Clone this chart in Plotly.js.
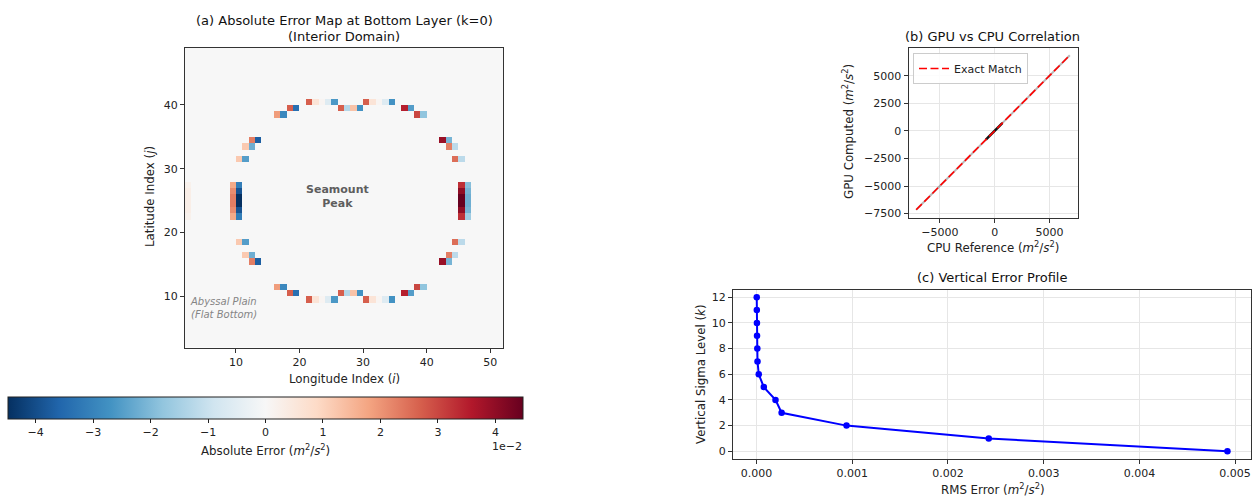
<!DOCTYPE html>
<html>
<head>
<meta charset="utf-8">
<script src="https://cdn.plot.ly/plotly-3.0.1.min.js"></script>
<style>html,body{margin:0;padding:0;background:#fff;}#chart{width:1252px;height:498px;}</style>
</head>
<body>
<div id="chart"></div>
<script>
// ---------- Panel (a): error map cells (lon index i, lat index j, error) ----------
const lonEdges = [2,3,4,5,6,7,8,9,10,11,12,13,14,15,16,17,18,19,20,21,22,23,24,25,26,27,28,29,30,31,32,33,34,35,36,37,38,39,40,41,42,43,44,45,46,47,48,49,50,51,52];
const latEdges = [2,3,4,5,6,7,8,9,10,11,12,13,14,15,16,17,18,19,20,21,22,23,24,25,26,27,28,29,30,31,32,33,34,35,36,37,38,39,40,41,42,43,44,45,46,47,48,49];
const errLon = [
  21,22,23,24,25,30,31,32,33,34,
  18,19,26,27,28,29,36,37,
  16,17,38,39,
  12,13,42,43,
  11,12,43,44,
  10,11,44,45,
  9,9,9,9,9,9,
  10,10,10,10,10,10,
  45,45,45,45,45,45,
  46,46,46,46,46,46,
  2,2,2,2,2,2,
  10,11,44,45,
  11,12,43,44,
  12,13,42,43,
  16,17,38,39,
  18,19,26,27,28,29,36,37,
  21,22,23,24,25,30,31,32,33,34
];
const errLat = [
  40,40,40,40,40,40,40,40,40,40,
  39,39,39,39,39,39,39,39,
  38,38,38,38,
  34,34,34,34,
  33,33,33,33,
  31,31,31,31,
  27,26,25,24,23,22,
  27,26,25,24,23,22,
  27,26,25,24,23,22,
  27,26,25,24,23,22,
  27,26,25,24,23,22,
  18,18,18,18,
  16,16,16,16,
  15,15,15,15,
  11,11,11,11,
  10,10,10,10,10,10,10,10,
  9,9,9,9,9,9,9,9,9,9
];
const errVal = [
  0.027,0.006,0.001,-0.006,-0.026,0.027,0.006,0.001,-0.006,-0.027,
  0.027,-0.034,0.027,-0.013,0.013,-0.027,0.035,-0.025,
  0.019,-0.029,0.030,-0.018,
  0.023,-0.037,0.039,-0.021,
  0.012,-0.022,0.023,-0.012,
  0.012,-0.025,0.025,-0.012,
  0.017,0.021,0.023,0.023,0.021,0.017,
  -0.031,-0.039,-0.045,-0.045,-0.039,-0.031,
  0.033,0.040,0.045,0.045,0.040,0.033,
  -0.019,-0.021,-0.022,-0.022,-0.021,-0.016,
  0.002,0.003,0.003,0.003,0.003,0.002,
  0.012,-0.025,0.025,-0.012,
  0.012,-0.022,0.023,-0.012,
  0.023,-0.037,0.039,-0.021,
  0.019,-0.029,0.030,-0.018,
  0.027,-0.034,0.027,-0.013,0.013,-0.027,0.035,-0.025,
  0.027,0.006,0.001,-0.006,-0.026,0.027,0.006,0.001,-0.006,-0.027
];
const errLimit = 0.0448;
const cbTickVals = [-0.04,-0.03,-0.02,-0.01,0,0.01,0.02,0.03,0.04];
const cbTickText = ['\u22124','\u22123','\u22122','\u22121','0','1','2','3','4'];
const aXTicks = [10,20,30,40,50];
const aYTicks = [10,20,30,40];

// ---------- Panel (b): GPU vs CPU ----------
const cpuSpread = [-7150, 6850];
const gpuSpread = [-7150, 6850];
const cpuCore = [-800, 700];
const gpuCore = [-800, 700];
const exactMatch = [-7150, 6850];
const bTicksX = [-5000, 0, 5000];
const bTicksXText = ['\u22125000','0','5000'];
const bTicksY = [5000, 2500, 0, -2500, -5000, -7500];
const bTicksYText = ['5000','2500','0','\u22122500','\u22125000','\u22127500'];

// ---------- Panel (c): vertical profile ----------
const sigmaLevels = [0,1,2,3,4,5,6,7,8,9,10,11,12];
const rmsError = [0.00492,0.002426,0.00094,0.000262,0.000198,0.000076,0.000023,0.00001,0.000008,0.000005,0.000004,0.000003,0.000002];

// build z matrix from cell lists
const nx = lonEdges.length - 1, ny = latEdges.length - 1;
const z = [];
for (let r = 0; r < ny; r++) { z.push(new Array(nx).fill(0)); }
for (let k = 0; k < errVal.length; k++) {
  const c = errLon[k] - lonEdges[0];
  const r = errLat[k] - latEdges[0];
  if (r >= 0 && r < ny && c >= 0 && c < nx) z[r][c] = errVal[k];
}

const rdbuR = [
  [0.0,'#053061'],[0.1,'#2166ac'],[0.2,'#4393c3'],[0.3,'#92c5de'],[0.4,'#d1e5f0'],
  [0.5,'#f7f7f7'],[0.6,'#fddbc7'],[0.7,'#f4a582'],[0.8,'#d6604d'],[0.9,'#b2182b'],[1.0,'#67001f']
];

const W = 1252, H = 498;
const px = v => v / W;
const py = v => 1 - v / H;

const traces = [
  {
    type: 'heatmap', x: lonEdges, y: latEdges, z: z,
    zmin: -errLimit, zmax: errLimit, colorscale: rdbuR, xaxis: 'x', yaxis: 'y',
    hoverinfo: 'skip', showlegend: false,
    colorbar: {
      orientation: 'h', x: px(265.5), xanchor: 'center', y: py(396.5), yanchor: 'top',
      len: 515 / W, lenmode: 'fraction', thickness: 22, thicknessmode: 'pixels',
      outlinewidth: 1, outlinecolor: '#222', xpad: 0, ypad: 0,
      tickvals: cbTickVals, ticktext: cbTickText, ticks: 'outside', ticklen: 4, tickcolor: '#222',
      tickfont: {size: 11, color: '#222'}
    }
  },
  {
    type: 'scatter', mode: 'lines', x: cpuSpread, y: gpuSpread, xaxis: 'x2', yaxis: 'y2',
    line: {color: 'rgba(0,0,0,0.28)', width: 2}, showlegend: false, hoverinfo: 'skip'
  },
  {
    type: 'scatter', mode: 'lines', x: cpuCore, y: gpuCore, xaxis: 'x2', yaxis: 'y2',
    line: {color: 'rgba(0,0,0,0.9)', width: 2.5}, showlegend: false, hoverinfo: 'skip'
  },
  {
    type: 'scatter', mode: 'lines', x: exactMatch, y: exactMatch, xaxis: 'x2', yaxis: 'y2',
    name: 'Exact Match', line: {color: '#ff0000', width: 1.6, dash: '8px,3.5px'}, showlegend: true
  },
  {
    type: 'scatter', mode: 'lines+markers', x: rmsError, y: sigmaLevels, xaxis: 'x3', yaxis: 'y3',
    line: {color: '#0000ff', width: 2}, marker: {color: '#0000ff', size: 6.5}, showlegend: false
  }
];

const axBase = {
  showline: true, mirror: true, linecolor: '#333', linewidth: 1,
  ticks: 'outside', ticklen: 4, tickcolor: '#333', tickwidth: 1,
  tickfont: {size: 11, color: '#222'}, zeroline: false, showgrid: false, fixedrange: true
};

const layout = {
  width: W, height: H, margin: {l: 0, r: 0, t: 0, b: 0},
  paper_bgcolor: '#ffffff', plot_bgcolor: '#ffffff',
  font: {family: 'DejaVu Sans, sans-serif', size: 11, color: '#222'},
  xaxis: Object.assign({}, axBase, {domain: [px(185), px(503)], range: [2, 52], anchor: 'y', tickvals: aXTicks}),
  yaxis: Object.assign({}, axBase, {domain: [py(347.5), py(47.5)], range: [2, 49], anchor: 'x', tickvals: aYTicks}),
  xaxis2: Object.assign({}, axBase, {domain: [px(908.5), px(1077.5)], range: [-7850, 7550], anchor: 'y2',
    tickvals: bTicksX, ticktext: bTicksXText, showgrid: true, gridcolor: '#e6e6e6'}),
  yaxis2: Object.assign({}, axBase, {domain: [py(217.5), py(47.5)], range: [-7850, 7550], anchor: 'x2',
    tickvals: bTicksY, ticktext: bTicksYText, showgrid: true, gridcolor: '#e6e6e6'}),
  xaxis3: Object.assign({}, axBase, {domain: [px(733), px(1251)], range: [-0.000246, 0.005166], anchor: 'y3',
    dtick: 0.001, tick0: 0, tickformat: '.3f', showgrid: true, gridcolor: '#e6e6e6'}),
  yaxis3: Object.assign({}, axBase, {domain: [py(459), py(289.5)], range: [-0.6, 12.6], anchor: 'x3',
    dtick: 2, tick0: 0, showgrid: true, gridcolor: '#e6e6e6'}),
  showlegend: true,
  legend: {
    x: px(913), y: py(53), xanchor: 'left', yanchor: 'top',
    bgcolor: 'rgba(255,255,255,0.85)', bordercolor: '#cccccc', borderwidth: 1,
    font: {size: 11, color: '#222'}, tracegroupgap: 0, itemwidth: 30
  },
  annotations: [
    {text: '(a) Absolute Error Map at Bottom Layer (k=0)', x: px(344), y: py(20), xref: 'paper', yref: 'paper',
      xanchor: 'center', yanchor: 'middle', showarrow: false, font: {size: 13, color: '#111'}},
    {text: '(Interior Domain)', x: px(344), y: py(36), xref: 'paper', yref: 'paper',
      xanchor: 'center', yanchor: 'middle', showarrow: false, font: {size: 13, color: '#111'}},
    {text: 'Longitude Index (<i>i</i>)', x: px(344), y: py(379), xref: 'paper', yref: 'paper',
      xanchor: 'center', yanchor: 'middle', showarrow: false, font: {size: 11.8}},
    {text: 'Latitude Index (<i>j</i>)', x: px(150), y: py(197), xref: 'paper', yref: 'paper', textangle: -90,
      xanchor: 'center', yanchor: 'middle', showarrow: false, font: {size: 11.8}},
    {text: '<b>Seamount</b><br><b>Peak</b>', x: 25.9, y: 25.7, xref: 'x', yref: 'y',
      xanchor: 'center', yanchor: 'middle', showarrow: false, font: {size: 11, color: '#5e5e5e'}},
    {text: '<i>Abyssal Plain</i><br><i>(Flat Bottom)</i>', x: 2.4, y: 8.2, xref: 'x', yref: 'y', align: 'left',
      xanchor: 'left', yanchor: 'middle', showarrow: false, font: {size: 10, color: '#858585'}},
    {text: 'Absolute Error (<i>m</i><sup>2</sup>/<i>s</i><sup>2</sup>)', x: px(265.5), y: py(450), xref: 'paper', yref: 'paper',
      xanchor: 'center', yanchor: 'middle', showarrow: false, font: {size: 11.8}},
    {text: '1e\u22122', x: px(524), y: py(446), xref: 'paper', yref: 'paper',
      xanchor: 'right', yanchor: 'middle', showarrow: false, font: {size: 11}},
    {text: '(b) GPU vs CPU Correlation', x: px(993), y: py(36), xref: 'paper', yref: 'paper',
      xanchor: 'center', yanchor: 'middle', showarrow: false, font: {size: 13, color: '#111'}},
    {text: 'CPU Reference (<i>m</i><sup>2</sup>/<i>s</i><sup>2</sup>)', x: px(993), y: py(247), xref: 'paper', yref: 'paper',
      xanchor: 'center', yanchor: 'middle', showarrow: false, font: {size: 11.8}},
    {text: 'GPU Computed (<i>m</i><sup>2</sup>/<i>s</i><sup>2</sup>)', x: px(848), y: py(132), xref: 'paper', yref: 'paper', textangle: -90,
      xanchor: 'center', yanchor: 'middle', showarrow: false, font: {size: 11.8}},
    {text: '(c) Vertical Error Profile', x: px(992), y: py(277), xref: 'paper', yref: 'paper',
      xanchor: 'center', yanchor: 'middle', showarrow: false, font: {size: 13, color: '#111'}},
    {text: 'RMS Error (<i>m</i><sup>2</sup>/<i>s</i><sup>2</sup>)', x: px(992), y: py(489), xref: 'paper', yref: 'paper',
      xanchor: 'center', yanchor: 'middle', showarrow: false, font: {size: 11.8}},
    {text: 'Vertical Sigma Level (<i>k</i>)', x: px(701), y: py(374), xref: 'paper', yref: 'paper', textangle: -90,
      xanchor: 'center', yanchor: 'middle', showarrow: false, font: {size: 11.8}}
  ]
};

Plotly.newPlot('chart', traces, layout, {staticPlot: true, displayModeBar: false});
</script>
</body>
</html>
